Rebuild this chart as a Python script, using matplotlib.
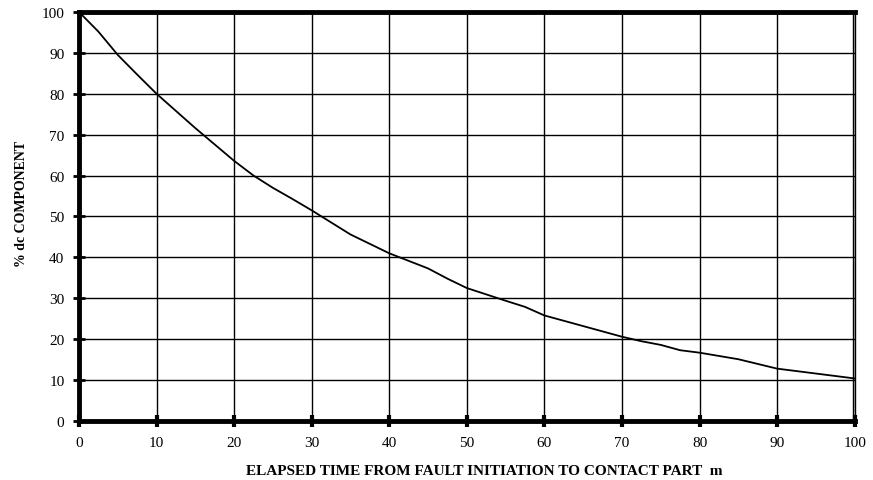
"""
Decay of dc component vs elapsed time to contact part.
"""

import matplotlib
matplotlib.use("Agg")
import matplotlib.pyplot as plt
import numpy as np

# elapsed time (x) and % dc component (y)
elapsed = [0, 2.5, 5, 7.5, 10, 15, 20, 22.5, 25, 27.5, 30, 35, 40, 45, 47.5,
           50, 55, 57.5, 60, 65, 70, 72.5, 75, 77.5, 80, 85, 90, 95, 100]
dc_pct = [100, 95.2, 89.5, 84.7, 80, 71.6, 63.6, 60, 57, 54.3, 51.5, 45.6, 41,
          37.3, 34.8, 32.5, 29.4, 27.9, 25.8, 23.2, 20.6, 19.5, 18.6, 17.3,
          16.7, 15.1, 12.8, 11.6, 10.4]

x_ticks = np.arange(0, 101, 10)
y_ticks = np.arange(0, 101, 10)

plt.rcParams["font.family"] = ["Liberation Serif", "DejaVu Serif"]

fig = plt.figure(figsize=(8.73, 4.81), dpi=100)
ax = fig.add_axes([0.0905, 0.1227, 0.8885, 0.8503])

ax.plot(elapsed, dc_pct, color="black", lw=1.3, solid_joinstyle="round")

ax.set_xlim(0, 100)
ax.set_ylim(0, 100)
ax.set_xticks(x_ticks)
ax.set_yticks(y_ticks)
ax.grid(True, color="black", lw=1.0)
ax.set_axisbelow(True)

for side in ["left", "top", "bottom"]:
    ax.spines[side].set_linewidth(3.5)
ax.spines["right"].set_linewidth(1.0)
# double line on the right edge
ax.axvline(99.75, color="black", lw=1.0)

ax.tick_params(axis="x", direction="inout", length=9, width=3, labelsize=11, pad=6)
ax.tick_params(axis="y", direction="inout", length=9, width=2, labelsize=11, pad=6)

ax.set_xlabel("ELAPSED TIME FROM FAULT INITIATION TO CONTACT PART  m",
              fontsize=11, fontweight="bold")
ax.set_ylabel("% dc COMPONENT", fontsize=10, fontweight="bold")
ax.xaxis.set_label_coords(0.523, -0.106)
ax.yaxis.set_label_coords(-0.066, 0.534)

fig.savefig("out.png", dpi=100)
plt.close(fig)
